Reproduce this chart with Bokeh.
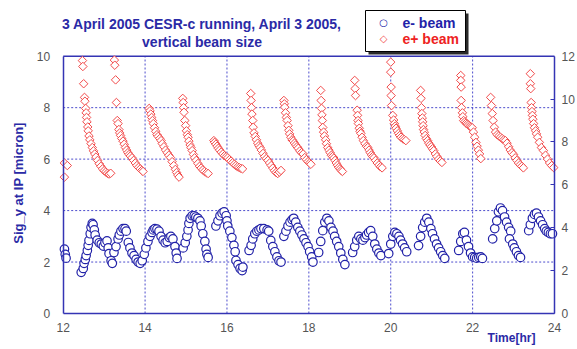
import numpy as np
from bokeh.plotting import figure
from bokeh.models import Range1d, LinearAxis, FixedTicker, Label
from bokeh.embed import file_html
from bokeh.resources import INLINE

# ---------------- data ----------------
x_ticks = [12, 14, 16, 18, 20, 22, 24]
y_ticks = [0, 2, 4, 6, 8, 10]
y2_ticks = [0, 2, 4, 6, 8, 10, 12]

# e+ beam vertical size [micron]
ep_time = [
    12.03, 12.10, 12.03,
    12.47, 12.48, 12.50, 12.52, 12.53, 12.55, 12.56, 12.57, 12.58, 12.60, 12.61, 12.63, 12.65, 12.68,
    12.71, 12.74, 12.77, 12.80, 12.84, 12.88, 12.92, 12.96, 13.00, 13.04, 13.08, 13.12, 13.16,
    13.25, 13.26, 13.28, 13.30, 13.32, 13.34, 13.36, 13.38, 13.40, 13.43, 13.46, 13.49, 13.52, 13.55,
    13.58, 13.61, 13.64, 13.68, 13.72, 13.76, 13.80, 13.84, 13.88, 13.92, 13.95,
    14.10, 14.12, 14.14, 14.16, 14.18, 14.20, 14.23, 14.26, 14.29, 14.32, 14.36, 14.39, 14.42, 14.46,
    14.50, 14.54, 14.58, 14.62, 14.66, 14.70, 14.74, 14.77, 14.80, 14.83,
    14.92, 14.93, 14.94, 14.95, 14.97, 14.99, 15.01, 15.03, 15.05, 15.07, 15.10, 15.12, 15.15, 15.18,
    15.21, 15.25, 15.29, 15.33, 15.37, 15.41, 15.45, 15.50, 15.54,
    15.68, 15.70, 15.73, 15.76, 15.79, 15.82, 15.86, 15.90, 15.94, 15.98, 16.02, 16.06, 16.10, 16.14,
    16.18, 16.22, 16.26, 16.30, 16.34, 16.38,
    16.58, 16.59, 16.60, 16.61, 16.63, 16.64, 16.66, 16.69, 16.72, 16.75, 16.78, 16.81, 16.84, 16.88,
    16.92, 16.96, 17.00, 17.04, 17.08, 17.12, 17.16, 17.20, 17.24, 17.28, 17.32,
    17.39, 17.40, 17.41, 17.43, 17.45, 17.47, 17.49, 17.51, 17.53, 17.56, 17.59, 17.62, 17.65, 17.68,
    17.71, 17.74, 17.78, 17.82, 17.86, 17.90, 17.94, 17.98, 18.02, 18.05,
    18.29, 18.30, 18.31, 18.32, 18.33, 18.34, 18.36, 18.38, 18.41, 18.43, 18.46, 18.49, 18.52, 18.55,
    18.58, 18.61, 18.64, 18.67, 18.70, 18.73, 18.76, 18.79, 18.82,
    19.12, 19.13, 19.14, 19.18, 19.19, 19.20, 19.21, 19.23, 19.25, 19.27, 19.30, 19.33, 19.37, 19.41,
    19.44, 19.47, 19.50, 19.53, 19.56, 19.59, 19.63, 19.67, 19.71, 19.75, 19.79,
    20.00, 20.00, 20.01, 20.01, 20.02, 20.05, 20.07, 20.09, 20.11, 20.13, 20.16, 20.19, 20.22, 20.25,
    20.29, 20.33, 20.37,
    20.73, 20.74, 20.75, 20.76, 20.77, 20.78, 20.79, 20.80, 20.82, 20.84, 20.87, 20.90, 20.93, 20.96,
    20.99, 21.02, 21.05, 21.09, 21.13, 21.17, 21.21, 21.25,
    21.71, 21.71, 21.72, 21.72, 21.73, 21.75, 21.76, 21.78, 21.81, 21.84, 21.87, 21.90, 21.93, 21.96,
    21.99, 22.02, 22.05, 22.08, 22.11, 22.14, 22.17, 22.20,
    22.44, 22.46, 22.48, 22.50, 22.53, 22.56, 22.60, 22.64, 22.68, 22.72, 22.76, 22.80, 22.84, 22.88,
    22.92, 22.96, 23.00, 23.04, 23.08, 23.12, 23.16, 23.20, 23.24,
    23.41, 23.41, 23.42, 23.43, 23.44, 23.45, 23.46, 23.47, 23.49, 23.51, 23.54, 23.56, 23.59, 23.63,
    23.68, 23.73, 23.78, 23.83, 23.88, 23.93, 23.98,
]
ep_size = [
    5.85, 5.75, 5.30,
    9.83, 9.60, 8.93, 8.40, 8.25, 7.97, 7.80, 7.62, 7.45, 7.25, 7.10, 6.90, 6.75, 6.60,
    6.45, 6.32, 6.20, 6.08, 5.95, 5.82, 5.72, 5.62, 5.55, 5.50, 5.45, 5.42, 5.45,
    9.85, 9.65, 9.08, 8.20, 7.50, 7.38, 7.15, 7.02, 6.92, 6.80, 6.70, 6.58, 6.45, 6.35,
    6.25, 6.18, 6.12, 6.05, 5.95, 5.85, 5.75, 5.68, 5.62, 5.56, 5.52,
    7.97, 7.88, 7.75, 7.62, 7.50, 7.38, 7.22, 7.08, 6.95, 6.88, 6.80, 6.72, 6.60, 6.48,
    6.35, 6.25, 6.15, 6.06, 5.90, 5.75, 5.60, 5.48, 5.38, 5.30,
    8.36, 8.20, 8.00, 7.82, 7.50, 7.30, 7.10, 6.95, 6.85, 6.70, 6.55, 6.45, 6.33, 6.18,
    6.05, 5.95, 5.83, 5.72, 5.65, 5.58, 5.52, 5.47, 5.44,
    6.72, 6.65, 6.58, 6.50, 6.42, 6.35, 6.27, 6.20, 6.13, 6.09, 6.05, 5.98, 5.92, 5.86,
    5.80, 5.75, 5.70, 5.67, 5.64, 5.62,
    8.55, 8.28, 8.00, 7.75, 7.50, 7.24, 7.02, 6.88, 6.75, 6.62, 6.52, 6.45, 6.35, 6.22,
    6.10, 6.02, 5.95, 5.85, 5.75, 5.65, 5.55, 5.48, 5.44, 5.50, 5.56,
    8.28, 8.15, 8.02, 7.80, 7.62, 7.50, 7.30, 7.12, 6.98, 6.85, 6.75, 6.70, 6.62, 6.55,
    6.48, 6.42, 6.32, 6.25, 6.20, 6.06, 5.98, 5.90, 5.85, 5.80,
    8.67, 8.28, 7.97, 7.72, 7.50, 7.23, 7.05, 6.90, 6.75, 6.60, 6.45, 6.35, 6.25, 6.15,
    6.10, 6.04, 5.95, 5.85, 5.76, 5.68, 5.62, 5.56, 5.52,
    9.06, 8.74, 8.47, 7.90, 7.70, 7.50, 7.38, 7.20, 7.08, 7.00, 6.85, 6.72, 6.60, 6.50,
    6.45, 6.35, 6.25, 6.16, 6.10, 6.05, 5.95, 5.85, 5.77, 5.70, 5.66,
    9.77, 9.38, 8.80, 8.47, 8.08, 7.70, 7.52, 7.38, 7.28, 7.20, 7.10, 7.00, 6.92, 6.85,
    6.80, 6.76, 6.72,
    8.67, 8.36, 8.00, 7.77, 7.60, 7.45, 7.30, 7.15, 7.05, 6.92, 6.80, 6.72, 6.62, 6.55,
    6.48, 6.40, 6.33, 6.20, 6.10, 6.00, 5.93, 5.87,
    9.25, 9.06, 8.80, 8.28, 8.00, 7.80, 7.65, 7.50, 7.45, 7.40, 7.36, 7.32, 7.28, 7.25,
    7.22, 7.05, 6.85, 6.65, 6.50, 6.35, 6.20, 6.02,
    8.40, 8.08, 7.77, 7.50, 7.24, 7.05, 6.95, 6.90, 6.85, 6.80, 6.75, 6.72, 6.62, 6.48,
    6.35, 6.25, 6.18, 6.05, 5.95, 5.85, 5.78, 5.72, 5.66,
    9.32, 8.93, 8.74, 8.20, 8.00, 7.85, 7.70, 7.55, 7.38, 7.22, 7.10, 6.98, 6.85, 6.65,
    6.45, 6.33, 6.15, 6.00, 5.85, 5.75, 5.67,
]

# e- beam vertical size [micron]
em_time = [
    12.03, 12.05, 12.07,
    12.44, 12.49, 12.51, 12.54, 12.56, 12.59, 12.61, 12.63, 12.66, 12.68, 12.71, 12.73, 12.76, 12.78,
    12.83, 12.88, 12.93, 12.98, 13.02, 13.07, 13.10, 13.12, 13.17, 13.20,
    13.24, 13.29, 13.34, 13.37, 13.41, 13.46, 13.51, 13.54, 13.59, 13.63, 13.68, 13.73, 13.78, 13.83,
    13.88, 13.93, 13.98, 14.02, 14.07, 14.12, 14.17,
    14.20, 14.24, 14.29, 14.34, 14.39, 14.44, 14.49, 14.54, 14.59, 14.63, 14.68, 14.73, 14.76, 14.78,
    14.93, 14.98, 15.02, 15.05, 15.07, 15.10, 15.15, 15.20, 15.24, 15.29, 15.34, 15.37, 15.41, 15.46,
    15.49, 15.51, 15.54,
    15.73, 15.78, 15.83, 15.88, 15.93, 15.98, 16.00, 16.02, 16.07, 16.12, 16.17, 16.20, 16.22, 16.27,
    16.32, 16.37, 16.39,
    16.54, 16.59, 16.63, 16.68, 16.73, 16.78, 16.83, 16.90, 16.98, 17.02, 17.07, 17.12, 17.17, 17.22,
    17.27, 17.32,
    17.39, 17.44, 17.49, 17.54, 17.59, 17.63, 17.68, 17.73, 17.78, 17.83, 17.88, 17.93, 17.98, 18.02,
    18.07, 18.10,
    18.24, 18.29, 18.34, 18.39, 18.44, 18.49, 18.54, 18.59, 18.63, 18.68, 18.73, 18.78, 18.83, 18.88,
    19.07, 19.12, 19.17, 19.22, 19.27, 19.32, 19.37, 19.41, 19.46, 19.51, 19.56, 19.61, 19.66, 19.71,
    19.76,
    19.95, 20.00, 20.05, 20.10, 20.15, 20.20, 20.24, 20.29, 20.34, 20.39,
    20.68, 20.73, 20.78, 20.83, 20.88, 20.93, 20.98, 21.02, 21.07, 21.12, 21.17, 21.22, 21.27, 21.32,
    21.66, 21.71, 21.76, 21.80, 21.85, 21.90, 21.95, 22.00, 22.05, 22.10, 22.15, 22.20, 22.24,
    22.49, 22.54, 22.59, 22.63, 22.68, 22.73, 22.78, 22.83, 22.88, 22.93, 22.90, 22.98, 23.02, 23.07,
    23.12, 23.17,
    23.37, 23.41, 23.46, 23.51, 23.56, 23.61, 23.66, 23.71, 23.76, 23.80, 23.85, 23.90, 23.95,
]
em_size = [
    2.50, 2.30, 2.15,
    1.60, 1.75, 1.95, 2.10, 2.25, 2.45, 2.65, 2.84, 3.10, 3.35, 3.50, 3.45, 3.25, 3.05,
    2.85, 2.75, 2.70, 2.62, 2.75, 2.82, 2.55, 2.33, 2.05, 1.95,
    2.37, 2.60, 2.90, 3.05, 3.20, 3.30, 3.30, 3.20, 2.76, 2.55, 2.35, 2.25, 2.10, 2.00,
    1.95, 2.05, 2.30, 2.55, 2.80, 3.00, 3.15,
    3.25, 3.30, 3.28, 3.20, 3.00, 2.85, 2.75, 2.80, 2.95, 3.00, 2.90, 2.60, 2.35, 2.14,
    2.55, 2.75, 3.00, 3.25, 3.50, 3.70, 3.80, 3.80, 3.75, 3.70, 3.60, 3.40, 3.10, 2.80,
    2.50, 2.30, 2.18,
    3.40, 3.60, 3.80, 3.90, 3.95, 3.80, 3.60, 3.40, 3.20, 2.95, 2.65, 2.40, 2.06, 1.90,
    1.75, 1.67, 1.80,
    2.45, 2.65, 2.90, 3.10, 3.20, 3.25, 3.30, 3.30, 3.25, 3.20, 2.84, 2.60, 2.40, 2.20,
    2.05, 2.00,
    3.00, 3.20, 3.40, 3.55, 3.65, 3.70, 3.55, 3.35, 3.20, 3.05, 2.90, 2.75, 2.60, 2.40,
    2.20, 2.00,
    2.37, 2.80, 3.22, 3.55, 3.70, 3.60, 3.35, 3.20, 3.00, 2.80, 2.60, 2.35, 2.10, 1.90,
    2.37, 2.60, 2.85, 3.00, 2.90, 2.85, 2.95, 3.05, 3.15, 3.22, 3.00, 2.70, 2.50, 2.35,
    2.25,
    2.33, 2.70, 3.00, 3.15, 3.10, 3.00, 2.85, 2.70, 2.55, 2.40,
    2.64, 3.00, 3.34, 3.55, 3.70, 3.55, 3.30, 3.10, 2.90, 2.70, 2.55, 2.40, 2.25, 2.14,
    2.45, 2.80, 3.10, 3.15, 2.85, 2.60, 2.35, 2.20, 2.18, 2.15, 2.18, 2.20, 2.14,
    2.90, 3.30, 3.60, 3.95, 4.10, 4.00, 3.75, 3.55, 3.35, 3.20, 2.90, 2.70, 2.55, 2.40,
    2.25, 2.18,
    3.22, 3.45, 3.70, 3.85, 3.90, 3.75, 3.60, 3.45, 3.30, 3.20, 3.15, 3.10, 3.10,
]

title_lines = ["3 April 2005 CESR-c running, April 3 2005,", "vertical beam size"]
y_label = "Sig_y at IP [micron]"
x_label = "Time[hr]"
series_names = ["e- beam", "e+ beam"]
legend_keys = ["\u25cb", "\u25c7"]

# ---------------- geometry / styling ----------------
FONT = "Liberation Sans"
AX_BLUE = "#3434b4"
GRID_BLUE = "#3a3ac8"
TXT_BLUE = "#2a2aa6"
EM_COLOR = "#2222a8"
EP_COLOR = "#f24a4a"
TICK_COLOR = "#555555"

W, H = 577, 349
PL, PR, PT, PB = 62.7, 554.0, 55.7, 313.0          # plot box in canvas pixels
XMIN, XMAX, YMIN, YMAX, Y2MAX = 12.0, 24.0, 0.0, 10.0, 12.0
xs = (PR - PL) / (XMAX - XMIN)
ys = (PB - PT) / (YMAX - YMIN)
ys2 = (PB - PT) / Y2MAX

# the frame covers the whole canvas; axes sit at fixed locations
p = figure(width=W, height=H,
           x_range=Range1d(XMIN - PL / xs, XMAX + (W - PR) / xs),
           y_range=Range1d(YMIN - (H - PB) / ys, YMAX + PT / ys),
           output_backend="svg", toolbar_location=None,
           min_border_left=0, min_border_right=0, min_border_top=0, min_border_bottom=0)
p.background_fill_color = "white"
p.border_fill_color = "white"
p.outline_line_color = None
p.xgrid.visible = False
p.ygrid.visible = False

p.extra_y_ranges = {"right": Range1d(-(H - PB) / ys2, Y2MAX + PT / ys2)}

def style_axis(ax):
    ax.axis_line_color = AX_BLUE
    ax.axis_line_width = 1.5
    ax.minor_tick_line_color = None
    ax.major_label_text_font = FONT
    ax.major_label_text_font_size = "12px"
    ax.major_label_text_color = TICK_COLOR

xa = p.xaxis[0]
xa.ticker = FixedTicker(ticks=x_ticks)
xa.fixed_location = YMIN
xa.bounds = (XMIN, XMAX)
style_axis(xa)
xa.major_tick_in = 0
xa.major_tick_out = 0
xa.major_label_standoff = 9

ya = p.yaxis[0]
ya.ticker = FixedTicker(ticks=y_ticks)
ya.fixed_location = XMIN
ya.bounds = (YMIN, YMAX)
style_axis(ya)
ya.major_tick_in = 0
ya.major_tick_out = 0
ya.major_label_standoff = 13

ax_r = LinearAxis(y_range_name="right", ticker=FixedTicker(ticks=y2_ticks))
ax_r.fixed_location = XMAX
ax_r.bounds = (0, Y2MAX)
style_axis(ax_r)
ax_r.major_tick_in = 4
ax_r.major_tick_out = 0
ax_r.major_tick_line_color = AX_BLUE
ax_r.major_label_standoff = 7
p.add_layout(ax_r, "right")

def cx(px):
    return XMIN + (px - PL) / xs
def cy(py):
    return YMIN + (PB - py) / ys

# dotted grid and top border of the plot box
gx = x_ticks[1:-1]
p.segment(x0=gx, y0=[YMIN] * len(gx), x1=gx, y1=[YMAX] * len(gx),
          line_color=GRID_BLUE, line_dash="2 2", line_width=1, line_alpha=0.9)
gy = y_ticks[1:-1]
p.segment(x0=[XMIN] * len(gy), y0=gy, x1=[XMAX] * len(gy), y1=gy,
          line_color=GRID_BLUE, line_dash="2 2", line_width=1, line_alpha=0.9)
p.segment(x0=[XMIN], y0=[YMAX], x1=[XMAX], y1=[YMAX], line_color=AX_BLUE, line_width=1.5)

# data
r_ep = p.scatter(ep_time, ep_size, marker="square", angle=np.pi / 4, size=6,
                 line_color=EP_COLOR, fill_color="white", line_width=1)
r_em = p.scatter(em_time, em_size, marker="circle", size=8.5,
                 line_color=EM_COLOR, fill_color="white", line_width=1.2)

# legend frame: drop shadow and white framed box, built from blank text labels
# (text is non-breaking spaces drawn opaque, so the label box is painted)
LEG_L, LEG_T = 365.0, 10.0          # canvas pixels (box about 100 x 40)
BOX_TEXT = "\u00a0" * 10
def frame_label(px, py, fill, border):
    lab = Label(x=cx(px), y=cy(py), text=BOX_TEXT, text_font=FONT, text_font_size="36px",
                text_color=fill, text_alpha=1.0, text_align="left", text_baseline="top",
                background_fill_color=fill, background_fill_alpha=1.0,
                border_line_color=border, border_line_width=1)
    try:
        lab.padding = 0
    except Exception:
        pass
    return lab

p.add_layout(frame_label(LEG_L + 3, LEG_T + 3, "#2a2a2a", None))
p.add_layout(frame_label(LEG_L, LEG_T, "white", "black"))

# legend key symbols and coloured labels
leg_colors = [EM_COLOR, "#ee2222"]
key_colors = [EM_COLOR, EP_COLOR]
for i, (name, key, col, kcol) in enumerate(zip(series_names, legend_keys, leg_colors, key_colors)):
    yy = cy(LEG_T + 12 + 16 * i)
    p.add_layout(Label(x=cx(LEG_L + 18), y=yy, text=key, text_color=kcol,
                       text_font="DejaVu Sans", text_font_size="10px",
                       text_align="center", text_baseline="middle"))
    p.add_layout(Label(x=cx(LEG_L + 37), y=yy, text=name, text_color=col,
                       text_font=FONT, text_font_size="14px", text_font_style="bold",
                       text_align="left", text_baseline="middle"))

# title
for i, line in enumerate(title_lines):
    p.add_layout(Label(x=cx(201.5), y=cy(23 + 18 * i), text=line, text_color=TXT_BLUE,
                       text_font=FONT, text_font_size="14px", text_font_style="bold",
                       text_align="center", text_baseline="middle"))

# axis titles
p.add_layout(Label(x=cx(18), y=cy(182.5), text=y_label, angle=np.pi / 2, text_color=TXT_BLUE,
                   text_font=FONT, text_font_size="13px", text_font_style="bold",
                   text_align="center", text_baseline="middle"))
p.add_layout(Label(x=cx(511), y=cy(337), text=x_label, text_color=TXT_BLUE,
                   text_font=FONT, text_font_size="12px", text_font_style="bold",
                   text_align="center", text_baseline="middle"))

open("out.html", "w").write(file_html(p, INLINE))
